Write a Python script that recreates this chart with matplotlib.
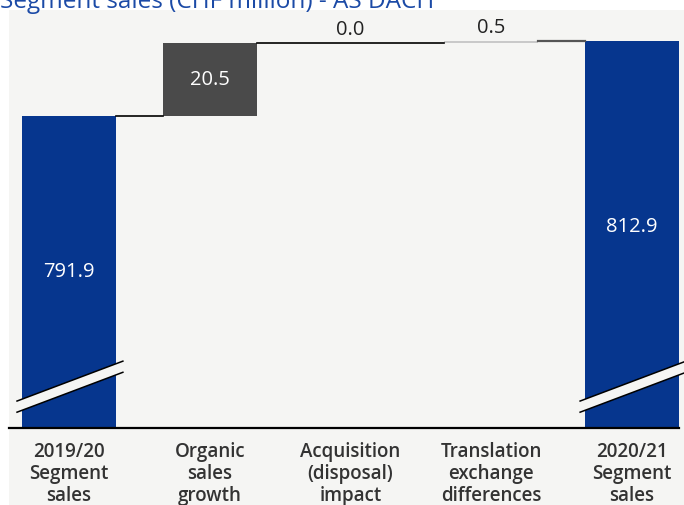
import matplotlib.pyplot as plt
import matplotlib.patches as patches

categories = ["2019/20\nSegment\nsales", "Organic\nsales\ngrowth", "Acquisition\n(disposal)\nimpact",
              "Translation\nexchange\ndifferences", "2020/21\nSegment\nsales"]
start_value = 791.9
changes = [20.5, 0.0, 0.5]
end_value = 812.9
value_labels = ["791.9", "20.5", "0.0", "0.5", "812.9"]

blue = "#06368e"
dark_gray = "#4a4a4a"
light_gray = "#c9c9c9"
bg = "#f5f5f3"
y_min, y_max = 705.2, 821.5
w = 0.667

plt.rcParams['font.family'] = ['Open Sans', 'DejaVu Sans']

fig = plt.figure(figsize=(6.84, 5.05), dpi=100, facecolor="white")
fig.patches.append(patches.Rectangle((9 / 684, 0), 1, 1 - 10 / 505, transform=fig.transFigure,
                                     facecolor=bg, edgecolor="none", zorder=-10))
ax = fig.add_axes([9 / 684, 1 - 428 / 505, 675 / 684, 418 / 505])
ax.set_facecolor(bg)
ax.set_xlim(-0.426, 4.369)
ax.set_ylim(y_min, y_max)

# totals at both ends
ax.bar(0, start_value - y_min, bottom=y_min, width=w, color=blue)
ax.bar(4, end_value - y_min, bottom=y_min, width=w, color=blue)

# steps in between
step_colors = [dark_gray, dark_gray, light_gray]
running = start_value
tops = [start_value]
for i, ch in enumerate(changes):
    ax.bar(i + 1, ch, bottom=running, width=w, color=step_colors[i])
    running += ch
    tops.append(running)

# connector lines
ax.plot([0 + w / 2, 1 - w / 2], [tops[0], tops[0]], color="black", lw=1.2)
ax.plot([1 + w / 2, 3 - w / 2], [tops[1], tops[1]], color="black", lw=1.2)
ax.plot([3 + w / 2, 4 - w / 2], [tops[3], tops[3]], color="#555555", lw=1.6)

# value labels
fs = 14.5
ax.text(0, (y_min + start_value) / 2, value_labels[0], color="white", ha="center", va="center", fontsize=fs)
ax.text(1, start_value + changes[0] / 2, value_labels[1], color="white", ha="center", va="center", fontsize=fs)
ax.text(2, tops[2] + 0.8, value_labels[2], color="#222222", ha="center", va="bottom", fontsize=fs)
ax.text(3, tops[3] + 0.8, value_labels[3], color="#222222", ha="center", va="bottom", fontsize=fs)
ax.text(4, (y_min + end_value) / 2 + 2.2, value_labels[4], color="white", ha="center", va="center", fontsize=fs)

# axis break marks on the total bars
for xc in [0, 4]:
    x0, x1 = xc - 0.369, xc + 0.383
    band = patches.Polygon([(x0, 712.7), (x1, 723.8), (x1, 720.7), (x0, 709.6)],
                           closed=True, facecolor=bg, edgecolor="none", zorder=3)
    ax.add_patch(band)
    ax.plot([x0, x1], [712.7, 723.8], color="black", lw=1.1, zorder=4)
    ax.plot([x0, x1], [709.6, 720.7], color="black", lw=1.1, zorder=4)

for side in ["top", "right", "left"]:
    ax.spines[side].set_visible(False)
ax.spines["bottom"].set_linewidth(1.6)
ax.spines["bottom"].set_bounds(-0.426, 4.33)
ax.set_yticks([])
ax.set_xticks(range(5))
ax.set_xticklabels(categories, fontsize=13.5, fontweight="semibold", color="#333333", linespacing=1.15)
ax.tick_params(axis="x", length=0, pad=10)

fig.text(0, 1 - 8 / 505, "Segment sales (CHF million) - AS DACH", color="#1b4aa6",
         fontsize=17.5, ha="left", va="baseline")

fig.savefig("out.png", dpi=100, facecolor=fig.get_facecolor())
